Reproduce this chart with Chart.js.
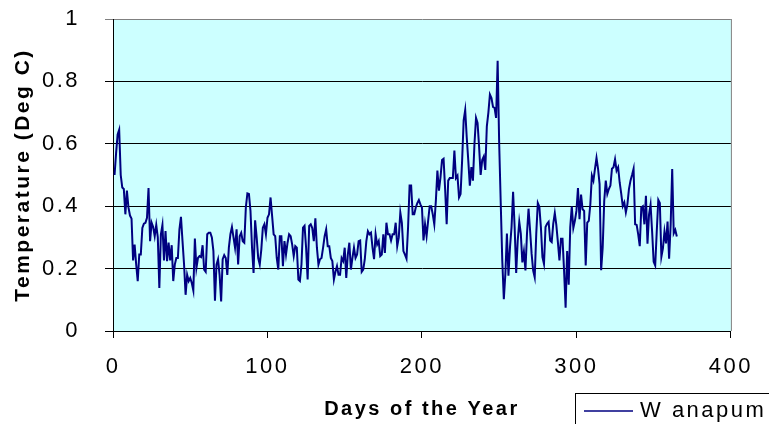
<!DOCTYPE html>
<html>
<head>
<meta charset="utf-8">
<script src="https://cdn.jsdelivr.net/npm/chart.js@4.4.1/dist/chart.umd.min.js"></script>
<style>
  html, body { margin: 0; padding: 0; background: #fff; }
  #wrap { width: 769px; height: 424px; }
</style>
</head>
<body>
<div id="wrap"><canvas id="c" width="769" height="424"></canvas></div>
<script>
// ====== Data (one value per day) ======
const seriesName = 'W anapum';
const temps = [
  0.50, 0.57, 0.63, 0.645, 0.50, 0.46, 0.455, 0.374, 0.45, 0.396,
  0.37, 0.36, 0.226, 0.277, 0.213, 0.16, 0.245, 0.245, 0.33, 0.344,
  0.347, 0.363, 0.458, 0.288, 0.347, 0.333, 0.304, 0.34, 0.30, 0.138,
  0.31, 0.34, 0.226, 0.32, 0.224, 0.283, 0.226, 0.275, 0.16, 0.213,
  0.234, 0.234, 0.326, 0.366, 0.288, 0.213, 0.116, 0.18, 0.16, 0.17,
  0.154, 0.13, 0.296, 0.202, 0.234, 0.24, 0.237, 0.275, 0.197, 0.19,
  0.31, 0.315, 0.315, 0.30, 0.256, 0.097, 0.213, 0.23, 0.18, 0.095,
  0.23, 0.243, 0.234, 0.18, 0.267, 0.31, 0.333, 0.30, 0.267, 0.326,
  0.213, 0.304, 0.315, 0.288, 0.283, 0.396, 0.441, 0.439, 0.385, 0.267,
  0.186, 0.355, 0.30, 0.234, 0.213, 0.261, 0.331, 0.342, 0.31, 0.363,
  0.374, 0.428, 0.369, 0.31, 0.304, 0.234, 0.197, 0.304, 0.304, 0.208,
  0.288, 0.245, 0.283, 0.31, 0.304, 0.277, 0.24, 0.272, 0.267, 0.165,
  0.16, 0.213, 0.331, 0.337, 0.267, 0.165, 0.337, 0.342, 0.33, 0.288,
  0.361, 0.267, 0.213, 0.23, 0.234, 0.267, 0.304, 0.326, 0.272, 0.272,
  0.234, 0.224, 0.165, 0.19, 0.208, 0.18, 0.18, 0.234, 0.224, 0.267,
  0.17, 0.245, 0.283, 0.197, 0.234, 0.267, 0.234, 0.245, 0.288, 0.29,
  0.19, 0.197, 0.23, 0.288, 0.32, 0.31, 0.315, 0.267, 0.23, 0.31,
  0.277, 0.288, 0.24, 0.245, 0.31, 0.25, 0.347, 0.31, 0.31, 0.29,
  0.31, 0.31, 0.347, 0.272, 0.30, 0.38, 0.347, 0.256, 0.245, 0.232,
  0.331, 0.466, 0.466, 0.374, 0.374, 0.396, 0.41, 0.42, 0.406, 0.396,
  0.29, 0.342, 0.304, 0.353, 0.40, 0.40, 0.374, 0.342, 0.417, 0.514,
  0.45, 0.492, 0.548, 0.552, 0.455, 0.342, 0.482, 0.49, 0.49, 0.49,
  0.578, 0.49, 0.498, 0.428, 0.439, 0.546, 0.675, 0.708, 0.62, 0.546,
  0.466, 0.525, 0.482, 0.60, 0.683, 0.667, 0.59, 0.50, 0.548, 0.559,
  0.516, 0.656, 0.70, 0.758, 0.747, 0.718, 0.715, 0.683, 0.866, 0.60,
  0.41, 0.226, 0.102, 0.183, 0.312, 0.177, 0.269, 0.333, 0.446, 0.333,
  0.186, 0.29, 0.35, 0.312, 0.22, 0.255, 0.194, 0.312, 0.392, 0.323,
  0.247, 0.194, 0.172, 0.312, 0.41, 0.398, 0.333, 0.237, 0.215, 0.333,
  0.344, 0.35, 0.29, 0.285, 0.344, 0.378, 0.339, 0.285, 0.226, 0.296,
  0.296, 0.194, 0.075, 0.256, 0.148, 0.333, 0.40, 0.33, 0.353, 0.385,
  0.458, 0.358, 0.437, 0.39, 0.385, 0.21, 0.347, 0.353, 0.406, 0.498,
  0.482, 0.52, 0.555, 0.52, 0.471, 0.195, 0.267, 0.417, 0.482, 0.439,
  0.455, 0.466, 0.52, 0.525, 0.55, 0.514, 0.525, 0.476, 0.44, 0.40,
  0.412, 0.38, 0.406, 0.455, 0.482, 0.50, 0.52, 0.342, 0.34, 0.31,
  0.272, 0.396, 0.40, 0.342, 0.433, 0.28, 0.373, 0.405, 0.319, 0.222,
  0.21, 0.319, 0.42, 0.41, 0.238, 0.265, 0.319, 0.281, 0.351, 0.232,
  0.34, 0.519, 0.313, 0.324, 0.303
];
const days = temps.map((_, i) => i + 1); // day of the year, 1..365
const xTicks = [0, 100, 200, 300, 400];
const yTicks = [0, 0.2, 0.4, 0.6, 0.8, 1];

// ====== Look ======
const FONT = 'Liberation Sans, Arial, sans-serif';
const LINE_COLOR = '#000080';
const SPACING = '2.5px'; // the reference text is spaced out wide

function spaceText(chart){ chart.ctx.letterSpacing = SPACING; }

// plot background, gray frame, legend box
const plotDeco = {
  id: 'plotDeco',
  afterInit: spaceText,
  beforeUpdate: spaceText,
  beforeLayout: spaceText,
  beforeDraw(chart){
    spaceText(chart);
    const {ctx, chartArea: a} = chart;
    ctx.save();
    ctx.fillStyle = '#CCFFFF';
    ctx.fillRect(a.left, a.top, a.right - a.left, a.bottom - a.top);
    ctx.restore();
  },
  afterDraw(chart){
    const {ctx, chartArea: a} = chart;
    const ds = chart.data.datasets[0];
    ctx.save();
    // right edge of the plot
    ctx.strokeStyle = '#808080'; ctx.lineWidth = 1;
    ctx.beginPath(); ctx.moveTo(a.right + 0.5, a.top); ctx.lineTo(a.right + 0.5, a.bottom); ctx.stroke();
    // legend
    ctx.strokeStyle = '#000';
    ctx.strokeRect(575.5, 393.5, 240, 60);
    ctx.strokeStyle = ds.borderColor; ctx.lineWidth = 1.5;
    ctx.beginPath(); ctx.moveTo(584, 411); ctx.lineTo(633, 411); ctx.stroke();
    ctx.fillStyle = '#000';
    ctx.font = '22px ' + FONT;
    ctx.textBaseline = 'middle';
    ctx.letterSpacing = SPACING;
    ctx.fillText(ds.label, 640, 411);
    ctx.restore();
  }
};

const canvas = document.getElementById('c');
const ctx = canvas.getContext('2d');

new Chart(ctx, {
  type: 'line',
  data: {
    labels: days,
    datasets: [{
      label: seriesName,
      data: temps,
      borderColor: LINE_COLOR,
      borderWidth: 2,
      pointRadius: 0,
      tension: 0,
      fill: false
    }]
  },
  options: {
    responsive: false,
    animation: false,
    devicePixelRatio: 1,
    layout: { padding: { left: 0, right: 35, top: 19, bottom: 0 } },
    plugins: { legend: { display: false }, tooltip: { enabled: false } },
    scales: {
      x: {
        type: 'linear',
        min: 0, max: 400,
        afterBuildTicks: s => { s.ticks = xTicks.map(v => ({ value: v })); },
        afterFit: s => { s.height = 93; },
        grid: { drawOnChartArea: false, drawTicks: true, tickLength: 7, color: '#000' },
        border: { color: '#000', width: 1 },
        ticks: { color: '#000', font: { family: FONT, size: 22 }, padding: 16, maxRotation: 0 },
        title: {
          display: true, text: 'Days of the Year', color: '#000',
          font: { family: FONT, size: 20, weight: 'bold' },
          padding: { top: 0, bottom: 3 }
        }
      },
      y: {
        min: 0, max: 1,
        afterBuildTicks: s => { s.ticks = yTicks.map(v => ({ value: v })); },
        afterFit: s => { s.width = 113; s.paddingTop = 0; s.paddingBottom = 0; },
        grid: {
          color: c => (c.tick && c.tick.value === 1 ? '#808080' : '#000'),
          tickLength: 8, lineWidth: 1
        },
        border: { color: '#000', width: 1 },
        ticks: {
          color: '#000', font: { family: FONT, size: 22 }, padding: 25,
          callback: v => String(v)
        },
        title: {
          display: true, text: 'Temperature (Deg C)', color: '#000',
          font: { family: FONT, size: 21, weight: 'bold' },
          padding: { top: 11, bottom: 0 }
        }
      }
    }
  },
  plugins: [plotDeco]
});
</script>
</body>
</html>
